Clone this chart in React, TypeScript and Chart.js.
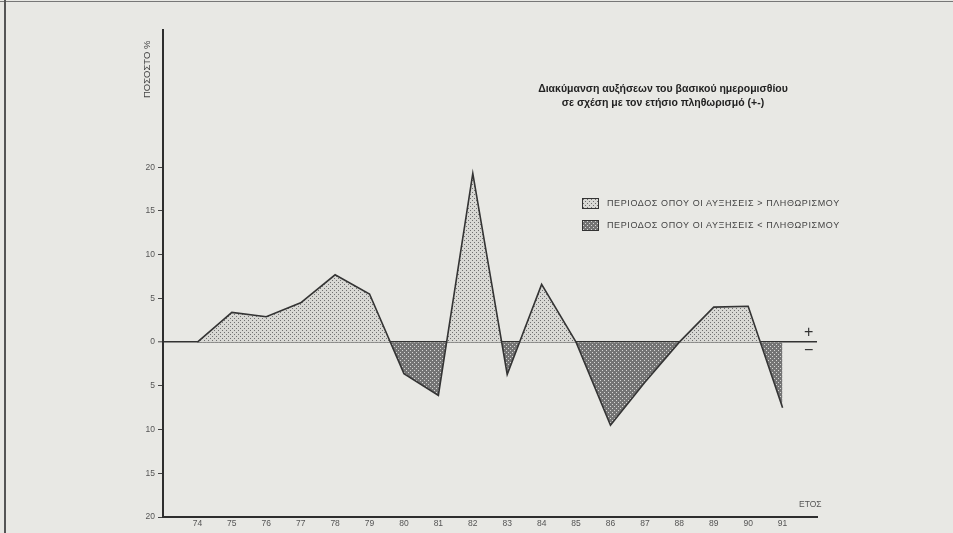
import React, { useEffect, useRef, useMemo } from 'react';
import { Chart, registerables } from 'chart.js';

Chart.register(...registerables);

const years = [74, 75, 76, 77, 78, 79, 80, 81, 82, 83, 84, 85, 86, 87, 88, 89, 90, 91];
const values = [0, 3.4, 2.9, 4.5, 7.7, 5.5, -3.6, -6.1, 19.3, -3.7, 6.6, 0, -9.5, -4.6, 0, 4.0, 4.1, -7.5];
const yTickValues = [-20, -15, -10, -5, 0, 5, 10, 15, 20];
const titleLines = [
  'Διακύμανση αυξήσεων του βασικού ημερομισθίου',
  'σε σχέση με τον ετήσιο πληθωρισμό (+-)',
];
const legendLabels = [
  'ΠΕΡΙΟΔΟΣ ΟΠΟΥ ΟΙ ΑΥΞΗΣΕΙΣ > ΠΛΗΘΩΡΙΣΜΟΥ',
  'ΠΕΡΙΟΔΟΣ ΟΠΟΥ ΟΙ ΑΥΞΗΣΕΙΣ < ΠΛΗΘΩΡΙΣΜΟΥ',
];
const yAxisTitle = 'ΠΟΣΟΣΤΟ %';
const xAxisTitle = 'ΕΤΟΣ';
const plusSign = '+';
const minusSign = '−';

const FONT = '"Liberation Sans", Arial, sans-serif';

function makeTile(kind: 'above' | 'below'): HTMLCanvasElement {
  const c = document.createElement('canvas');
  c.width = 4;
  c.height = 4;
  const g = c.getContext('2d')!;
  if (kind === 'above') {
    g.fillStyle = '#d8d8d4';
    g.fillRect(0, 0, 4, 4);
    g.fillStyle = '#707070';
    g.fillRect(0, 0, 1, 1);
    g.fillRect(2, 2, 1, 1);
  } else {
    g.fillStyle = '#747474';
    g.fillRect(0, 0, 4, 4);
    g.fillStyle = '#d6d6d4';
    g.fillRect(0, 0, 1, 1);
    g.fillRect(2, 2, 1, 1);
  }
  return c;
}

export default function App() {
  const canvasRef = useRef<HTMLCanvasElement | null>(null);
  const tiles = useMemo(() => ({ above: makeTile('above'), below: makeTile('below') }), []);

  useEffect(() => {
    document.body.style.margin = '0';
    const canvas = canvasRef.current!;
    const ctx = canvas.getContext('2d')!;
    const patAbove = ctx.createPattern(tiles.above, 'repeat')!;
    const patBelow = ctx.createPattern(tiles.below, 'repeat')!;

    const chart = new Chart(canvas, {
      type: 'line',
      data: {
        datasets: [
          {
            data: years.map((y, i) => ({ x: y, y: values[i] })),
            borderColor: '#343434',
            borderWidth: 1.6,
            tension: 0,
            pointRadius: 0,
            fill: { target: { value: 0 }, above: patAbove, below: patBelow },
          },
        ],
      },
      options: {
        animation: false,
        responsive: false,
        devicePixelRatio: 1,
        layout: { padding: { left: 130, right: 136, top: 30, bottom: 0 } },
        plugins: { legend: { display: false }, tooltip: { enabled: false } },
        scales: {
          x: {
            type: 'linear',
            min: 73,
            max: 92,
            afterBuildTicks: (s: any) => {
              s.ticks = years.map((v) => ({ value: v }));
            },
            afterFit: (s: any) => {
              s.height = 16;
            },
            grid: { display: false, drawTicks: false, tickLength: 0 },
            border: { display: true, color: '#2e2e2e', width: 2 },
            ticks: {
              autoSkip: false,
              maxRotation: 0,
              padding: 2,
              color: '#555',
              font: { family: FONT, size: 8.5 },
              callback: (v: any) => String(v),
            },
          },
          y: {
            type: 'linear',
            min: -20,
            max: 35.7,
            afterBuildTicks: (s: any) => {
              s.ticks = yTickValues.map((v) => ({ value: v }));
            },
            afterFit: (s: any) => {
              s.width = 33;
            },
            grid: {
              drawOnChartArea: true,
              drawTicks: true,
              tickLength: 5,
              color: (c: any) => (c.tick && c.tick.value === 0 ? '#333' : 'rgba(0,0,0,0)'),
              lineWidth: (c: any) => (c.tick && c.tick.value === 0 ? 1.6 : 1),
              tickColor: '#444',
              tickWidth: 1,
            },
            border: { display: true, color: '#2e2e2e', width: 2 },
            ticks: {
              autoSkip: false,
              padding: 3,
              color: '#555',
              font: { family: FONT, size: 8.5 },
              callback: (v: any) => String(Math.abs(Number(v))),
            },
            title: {
              display: true,
              text: yAxisTitle + '\u00A0\u00A0\u00A0\u00A0',
              align: 'end',
              color: '#444',
              font: { family: FONT, size: 9.5 },
              padding: { top: 12, bottom: 0 },
            },
          },
        },
      },
    } as any);
    return () => chart.destroy();
  }, [tiles]);

  const swatch = (kind: 'above' | 'below') => ({
    position: 'absolute' as const,
    width: 15,
    height: 9,
    border: '1px solid #333',
    backgroundImage: `url(${tiles[kind].toDataURL()})`,
    backgroundRepeat: 'repeat',
    imageRendering: 'pixelated' as const,
  });

  return (
    <div
      style={{
        position: 'fixed',
        left: 0,
        top: 0,
        width: 953,
        height: 533,
        background: '#e8e8e4',
        overflow: 'hidden',
        fontFamily: FONT,
      }}
    >
      <div style={{ position: 'absolute', left: 0, top: 1, width: 953, height: 1, background: '#777' }} />
      <div style={{ position: 'absolute', left: 4, top: 0, width: 2, height: 533, background: '#555' }} />
      <canvas ref={canvasRef} width={953} height={533} style={{ position: 'absolute', left: 0, top: 0 }} />
      <div
        style={{
          position: 'absolute',
          left: 463,
          width: 400,
          top: 81,
          textAlign: 'center',
          fontWeight: 'bold',
          fontSize: 10.5,
          lineHeight: '14px',
          color: '#222',
        }}
      >
        {titleLines.map((t, i) => (
          <div key={i}>{t}</div>
        ))}
      </div>
      <div style={{ ...swatch('above'), left: 582, top: 198 }} />
      <div style={{ ...swatch('below'), left: 582, top: 220 }} />
      {legendLabels.map((t, i) => (
        <div
          key={i}
          style={{
            position: 'absolute',
            left: 607,
            top: 197 + i * 22,
            fontSize: 9,
            lineHeight: '12px',
            color: '#444',
            letterSpacing: '0.6px',
            whiteSpace: 'nowrap',
          }}
        >
          {t}
        </div>
      ))}
      <div style={{ position: 'absolute', left: 804, top: 323, fontSize: 16, lineHeight: '18px', color: '#333' }}>
        {plusSign}
      </div>
      <div style={{ position: 'absolute', left: 804, top: 341, fontSize: 16, lineHeight: '18px', color: '#333' }}>
        {minusSign}
      </div>
      <div
        style={{
          position: 'absolute',
          left: 799,
          top: 499,
          fontSize: 8.5,
          lineHeight: '10px',
          color: '#555',
        }}
      >
        {xAxisTitle}
      </div>
    </div>
  );
}
